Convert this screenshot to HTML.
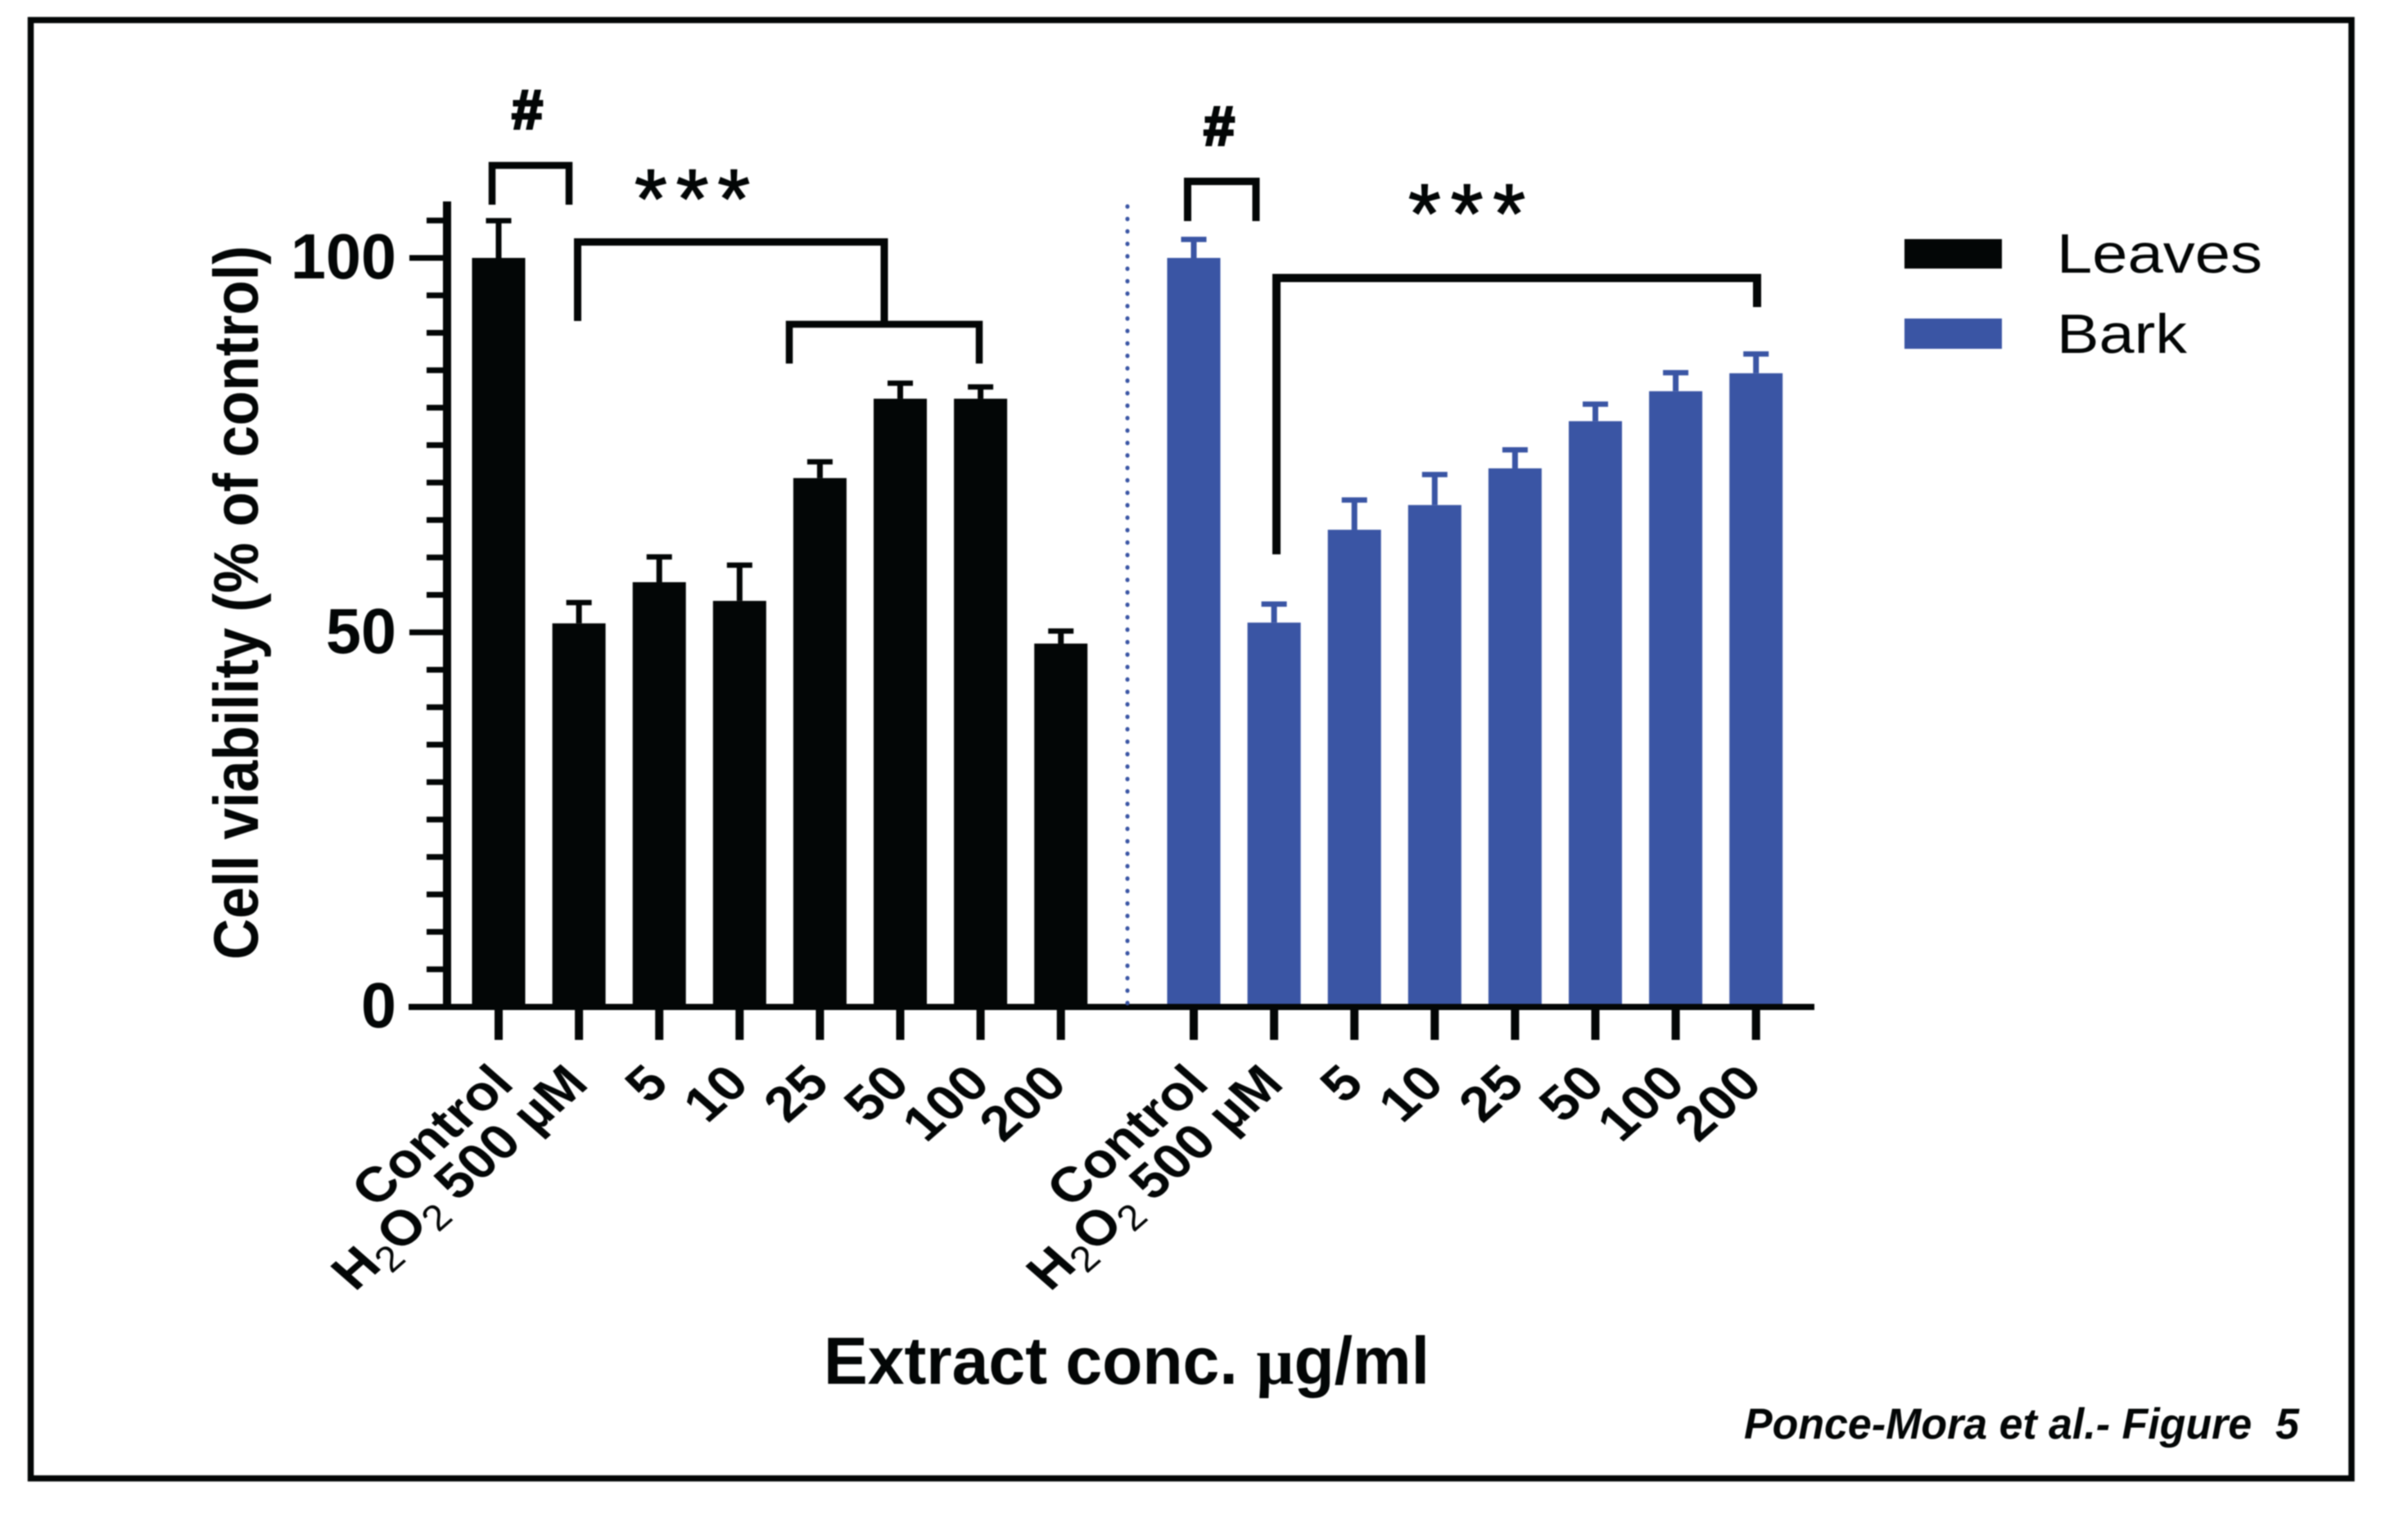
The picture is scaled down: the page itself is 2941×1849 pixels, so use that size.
<!DOCTYPE html>
<html lang="en">
<head>
<meta charset="utf-8">
<title>Cell viability chart</title>
<style>
html,body{margin:0;padding:0;background:#fff;}
svg{display:block;filter:blur(0.8px);}
text{font-family:"Liberation Sans",sans-serif;fill:#030606;}
.b{font-weight:bold;}
</style>
</head>
<body>
<svg id="chart" xmlns="http://www.w3.org/2000/svg" width="2941" height="1849" viewBox="0 0 2941 1849">
  <rect x="0" y="0" width="2941" height="1849" fill="#ffffff"/>
  <rect x="37.5" y="24.5" width="2834.5" height="1781" fill="none" stroke="#030606" stroke-width="7.5"/>
  <g id="plot"></g>

  <line x1="1377" y1="252" x2="1377" y2="1226" stroke="#3a55a4" stroke-width="5" stroke-linecap="round" stroke-dasharray="0.5 14.7"/>

  <text class="b" font-size="77" text-anchor="middle" textLength="872" lengthAdjust="spacingAndGlyphs" transform="translate(315,736) rotate(-90)">Cell viability (% of control)</text>
  <text class="b" font-size="82" x="1006" y="1690" textLength="740" lengthAdjust="spacingAndGlyphs">Extract conc. <tspan style="font-family:'Liberation Serif',serif">µ</tspan>g/ml</text>

  <path d="M601 250V202H695V250" fill="none" stroke="#030606" stroke-width="8.5"/>
  <text class="b" font-size="68" x="644" y="157" text-anchor="middle" stroke="#030606" stroke-width="3">#</text>
  <path d="M705.5 392V295.5H1080V396" fill="none" stroke="#030606" stroke-width="9"/>
  <path d="M964 444V396H1196V444" fill="none" stroke="#030606" stroke-width="8.5"/>
  <text font-size="102" x="775" y="278" letter-spacing="11" stroke="#030606" stroke-width="1.5">***</text>

  <path d="M1450.5 270V221.5H1534V270" fill="none" stroke="#030606" stroke-width="9"/>
  <text class="b" font-size="68" x="1489" y="177" text-anchor="middle" stroke="#030606" stroke-width="3">#</text>
  <path d="M1559 677V339.5H2146V375" fill="none" stroke="#030606" stroke-width="10"/>
  <text font-size="102" x="1720" y="296" letter-spacing="12" stroke="#030606" stroke-width="1.5">***</text>

  <rect x="2326" y="292" width="119" height="36" fill="#030606"/>
  <text font-size="68" x="2512" y="333" textLength="251" lengthAdjust="spacingAndGlyphs">Leaves</text>
  <rect x="2326" y="389" width="119" height="37" fill="#3a55a4"/>
  <text font-size="68" x="2512" y="431" textLength="159" lengthAdjust="spacingAndGlyphs">Bark</text>

  <text class="b" font-style="italic" font-size="53" x="2130" y="1757" textLength="678" lengthAdjust="spacingAndGlyphs" xml:space="preserve">Ponce-Mora et al.- Figure  5</text>
</svg>
<script>
var categories = ['Control', 'H2O2', '5', '10', '25', '50', '100', '200'];
var leavesValues = [100, 51.2, 56.7, 54.2, 70.6, 81.2, 81.2, 48.5];
var leavesErrorTops = [105, 54, 60.1, 59, 72.8, 83.3, 82.8, 50.2];
var barkValues = [100, 51.3, 63.7, 67, 71.9, 78.2, 82.2, 84.6];
var barkErrorTops = [102.5, 53.8, 67.7, 71.1, 74.4, 80.5, 84.7, 87.2];
var yMajorTicks = [0, 50, 100];
var yMinorTicks = [5, 10, 15, 20, 25, 30, 35, 40, 45, 55, 60, 65, 70, 75, 80, 85, 90, 95, 105];
var yTickLabels = ['0', '50', '100'];

var NS = 'http://www.w3.org/2000/svg';
var plot = document.getElementById('plot');
var BLACK = '#030606';
var BLUE = '#3a55a4';

function yScale(v) { return 1229.5 - v * 9.145; }
function xScale(groupStart, i) { return groupStart + i * 98.1; }

function make(tag, parent) {
  var el = document.createElementNS(NS, tag);
  parent.appendChild(el);
  return el;
}
function setAll(el, props) {
  for (var k in props) { el.setAttribute(k, props[k]); }
}

function drawSeries(seriesName, groupStart, values, tops, color) {
  for (var i = 0; i < values.length; i++) {
    var cx = xScale(groupStart, i);
    var top = yScale(values[i]);
    var errTop = yScale(tops[i]);

    var bar = make('rect', plot);
    
    
    setAll(bar, { x: cx - 32.5, y: top, width: 65, height: 1229.5 - top, fill: color });

    var stem = make('rect', plot);
    
    
    setAll(stem, { x: cx - 3.5, y: errTop, width: 7, height: top - errTop, fill: color });

    var cap = make('rect', plot);
    
    
    setAll(cap, { x: cx - 15.5, y: errTop - 3, width: 31, height: 6.5, fill: color });

    var tick = make('rect', plot);
    
    
    setAll(tick, { x: cx - 5, y: 1231, width: 10, height: 39, fill: BLACK });

    drawCategoryLabel(categories[i], cx);
  }
}

function drawCategoryLabel(name, cx) {
  var offset = name === 'Control' ? 21 : (name === '200' ? 10 : 14);
  var label = make('text', plot);
  
  
  setAll(label, {
    'class': 'b',
    'font-size': 60,
    'text-anchor': 'end',
    transform: 'translate(' + (cx + offset) + ',1326) scale(1.14,1) rotate(-45)'
  });
  if (name === 'H2O2') {
    appendSpan(label, 'H', 60, 'bold', 0);
    appendSpan(label, '2', 44, 'normal', 12);
    appendSpan(label, 'O', 60, 'bold', -12);
    appendSpan(label, '2', 44, 'normal', 12);
    appendSpan(label, ' 500 µM', 60, 'bold', -12);
  } else {
    label.textContent = name;
  }
}

function appendSpan(parent, text, size, weight, dy) {
  var span = make('tspan', parent);
  span.setAttribute('font-size', size);
  span.setAttribute('font-weight', weight);
  span.setAttribute('dy', dy);
  span.textContent = text;
}

function drawAxes() {
  var yAxis = make('rect', plot);
  
  
  setAll(yAxis, { x: 541, y: 246, width: 10, height: 987, fill: BLACK });

  var xAxis = make('rect', plot);
  
  
  setAll(xAxis, { x: 499, y: 1226, width: 1717, height: 7.5, fill: BLACK });

  yMinorTicks.forEach(function (v) {
    var t = make('rect', plot);
    
    
    setAll(t, { x: 521, y: yScale(v) - 3.5, width: 22, height: 7, fill: BLACK });
  });

  yMajorTicks.forEach(function (v, i) {
    var t = make('rect', plot);
    
    
    setAll(t, { x: 500, y: yScale(v) - 3.5, width: 43, height: 7, fill: BLACK });

    var label = make('text', plot);
    
    
    setAll(label, {
      'class': 'b',
      'font-size': 78,
      'text-anchor': 'end',
      x: 484,
      y: yScale(v) + 25,
      textLength: yTickLabels[i].length * 43,
      lengthAdjust: 'spacingAndGlyphs'
    });
    label.textContent = yTickLabels[i];
  });
}

drawSeries('leaves', 609, leavesValues, leavesErrorTops, BLACK);
drawSeries('bark', 1458, barkValues, barkErrorTops, BLUE);
drawAxes();
</script>
</body>
</html>
